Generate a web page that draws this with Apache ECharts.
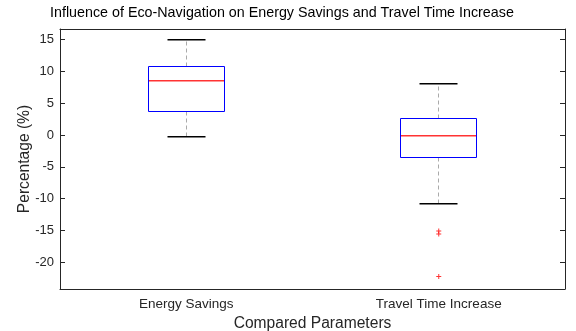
<!DOCTYPE html>
<html>
<head>
<meta charset="utf-8">
<script src="https://cdn.jsdelivr.net/npm/echarts@6/dist/echarts.min.js"></script>
<style>html,body{margin:0;padding:0;background:#fff}#c{width:576px;height:331px}</style>
</head>
<body>
<div id="c"></div>
<script>
const categories = ['Energy Savings', 'Travel Time Increase'];
// [lower whisker, Q1, median, Q3, upper whisker]
const energySavings = [-0.30, 3.63, 8.55, 10.86, 14.88];
const travelTime = [-10.83, -3.55, -0.09, 2.62, 8.03];
const outliers = [[1, -15.07], [1, -15.54], [1, -22.25]];
const yTicks = [-20, -15, -10, -5, 0, 5, 10, 15];
const yMin = -24.2, yMax = 16.68;

const boxStats = [energySavings, travelTime];
const boxData = boxStats.map((s, i) => [i].concat(s));

const ink = '#262626';
const font = 'Liberation Sans, Arial, sans-serif';

function crisp(v) { return Math.round(v - 0.5) + 0.5; }

function renderBox(params, api) {
  const i = api.value(0);
  const lo = api.coord([i, api.value(1)]);
  const q1 = api.coord([i, api.value(2)]);
  const md = api.coord([i, api.value(3)]);
  const q3 = api.coord([i, api.value(4)]);
  const hi = api.coord([i, api.value(5)]);
  const band = api.size([1, 0])[0];
  const bw = Math.round(band * 0.3);
  const cw = Math.round(band * 0.15);
  const cx = crisp(lo[0]);
  const yLo = Math.round(lo[1]), yQ1 = crisp(q1[1]), yMd = Math.round(md[1]), yQ3 = crisp(q3[1]), yHi = Math.round(hi[1]);
  const left = cx - bw / 2;
  const dash = { stroke: '#aaaaaa', lineWidth: 1, lineDash: [4, 3], fill: null };
  return {
    type: 'group',
    children: [
      { type: 'line', z2: 1, shape: { x1: cx, y1: yQ3, x2: cx, y2: yHi }, style: dash },
      { type: 'line', z2: 1, shape: { x1: cx, y1: yQ1, x2: cx, y2: yLo }, style: dash },
      { type: 'rect', z2: 2, shape: { x: cx - cw / 2, y: yHi - 1, width: cw, height: 1.5 }, style: { fill: '#000000', stroke: null } },
      { type: 'rect', z2: 2, shape: { x: cx - cw / 2, y: yLo - 1, width: cw, height: 1.5 }, style: { fill: '#000000', stroke: null } },
      { type: 'rect', z2: 3, shape: { x: left, y: yQ3, width: bw, height: yQ1 - yQ3 }, style: { fill: null, stroke: '#0000ff', lineWidth: 1 } },
      { type: 'rect', z2: 4, shape: { x: left + 0.5, y: yMd - 1, width: bw - 1, height: 1.5 }, style: { fill: '#ff3333', stroke: null } }
    ]
  };
}

const chart = echarts.init(document.getElementById('c'), null, { renderer: 'canvas' });
chart.setOption({
  animation: false,
  backgroundColor: '#fff',
  title: {
    text: 'Influence of Eco-Navigation on Energy Savings and Travel Time Increase',
    left: 45, top: 1,
    textStyle: { fontFamily: font, fontSize: 14.3, fontWeight: 'normal', color: '#000' }
  },
  grid: { left: 60, right: 11, top: 29, bottom: 42, containLabel: false, outerBoundsMode: 'none' },
  xAxis: [{
    type: 'category', data: categories, position: 'bottom',
    axisLine: { onZero: false, lineStyle: { color: ink, width: 1 } },
    axisTick: { inside: true, alignWithLabel: true, length: 5, lineStyle: { color: ink } },
    axisLabel: { fontFamily: font, fontSize: 13.5, color: ink, margin: 8 },
    name: 'Compared Parameters', nameLocation: 'middle', nameGap: 27, nameMoveOverlap: false,
    nameTextStyle: { fontFamily: font, fontSize: 15.6, color: ink }
  }, {
    type: 'category', data: categories, position: 'top',
    axisLine: { onZero: false, lineStyle: { color: ink, width: 1 } },
    axisTick: { inside: true, alignWithLabel: true, length: 5, lineStyle: { color: ink } },
    axisLabel: { show: false }
  }],
  yAxis: [{
    type: 'value', min: yMin, max: yMax, position: 'left',
    axisLine: { show: true, onZero: false, lineStyle: { color: ink, width: 1 } },
    axisTick: { show: true, inside: true, length: 5, customValues: yTicks, lineStyle: { color: ink } },
    axisLabel: { customValues: yTicks, fontFamily: font, fontSize: 13, color: ink, margin: 6 },
    splitLine: { show: false },
    name: 'Percentage (%)', nameLocation: 'middle', nameGap: 27, nameRotate: 90, nameMoveOverlap: false,
    nameTextStyle: { fontFamily: font, fontSize: 15.6, color: ink }
  }, {
    type: 'value', min: yMin, max: yMax, position: 'right',
    axisLine: { show: true, onZero: false, lineStyle: { color: ink, width: 1 } },
    axisTick: { show: true, inside: true, length: 5, customValues: yTicks, lineStyle: { color: ink } },
    axisLabel: { show: false },
    splitLine: { show: false }
  }],
  series: [{
    type: 'custom',
    renderItem: renderBox,
    encode: { x: 0, y: [1, 2, 3, 4, 5] },
    data: boxData,
    z: 3
  }, {
    type: 'scatter',
    data: outliers,
    symbol: 'path://M4,0h2v4h4v2h-4v4h-2v-4h-4v-2h4z',
    symbolSize: 5,
    itemStyle: { color: '#ff0000' },
    z: 4
  }]
});
</script>
</body>
</html>
